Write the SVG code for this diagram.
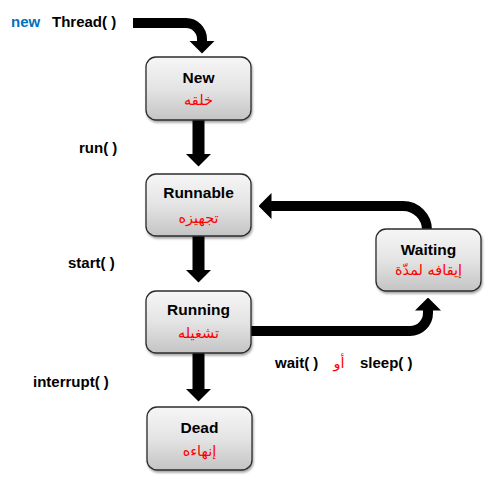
<svg xmlns="http://www.w3.org/2000/svg" width="491" height="484" viewBox="0 0 491 484">
<style>
.box{fill:url(#g);stroke:#2b2b2b;stroke-width:1.3;filter:url(#sh)}
.t{font-family:"Liberation Sans",Arial,sans-serif;font-weight:bold;font-size:15.5px;fill:#000;text-anchor:middle}
.ar{font-family:"DejaVu Sans","Noto Sans",sans-serif;font-size:14.5px;fill:#ff0000;text-anchor:middle}
.lb{font-family:"Liberation Sans",Arial,sans-serif;font-weight:bold;font-size:15px;fill:#000}
.c{fill:none;stroke:#000;stroke-width:12}
.c2{fill:none;stroke:#000;stroke-width:10}
</style>
<defs>
<linearGradient id="g" x1="0" y1="0" x2="0" y2="1">
<stop offset="0" stop-color="#f6f6f6"/>
<stop offset="0.5" stop-color="#e4e4e4"/>
<stop offset="1" stop-color="#c4c4c4"/>
</linearGradient>
<filter id="sh" x="-10%" y="-10%" width="125%" height="130%">
<feDropShadow dx="1" dy="2" stdDeviation="1.2" flood-color="#000" flood-opacity="0.35"/>
</filter>
<marker id="ah" viewBox="0 0 13 26" markerWidth="13" markerHeight="26" refX="0.5" refY="13" orient="auto" markerUnits="userSpaceOnUse">
<path d="M0,0 L13,13 L0,26 Z" fill="#000"/>
</marker>
</defs>
<g id="connectors">
<path class="c2" d="M133,23 H186 A16,16 0 0 1 202,39 V41" marker-end="url(#ah)"/>
<path class="c" d="M198.5,120 V154" marker-end="url(#ah)"/>
<path class="c" d="M198.5,236 V270" marker-end="url(#ah)"/>
<path class="c" d="M198.5,353 V389" marker-end="url(#ah)"/>
<path class="c2" d="M251,331 H410 A18,18 0 0 0 428,313 V310" marker-end="url(#ah)"/>
<path class="c2" d="M427,230 A24,24 0 0 0 403,206 H271" marker-end="url(#ah)"/>
</g>
<g id="labels">
<text class="lb" x="11" y="27"><tspan fill="#0070c0">new</tspan><tspan x="52">Thread( )</tspan></text>
<text class="lb" x="79" y="153">run( )</text>
<text class="lb" x="68" y="268">start( )</text>
<text class="lb" x="33" y="387">interrupt( )</text>
<text class="lb" x="275" y="368">wait( )</text>
<text class="ar" x="339" y="368">أو</text>
<text class="lb" x="360" y="368">sleep( )</text>
</g>
<g id="node-new">
<rect class="box" x="146" y="57" width="105" height="63" rx="10"/>
<text class="t" x="198.5" y="83">New</text>
<text class="ar" x="198.5" y="105">خلقه</text>
</g>
<g id="node-runnable">
<rect class="box" x="146" y="174" width="105" height="62" rx="10"/>
<text class="t" x="198.5" y="198">Runnable</text>
<text class="ar" x="198.5" y="223">تجهيزه</text>
</g>
<g id="node-running">
<rect class="box" x="146" y="291" width="105" height="62" rx="10"/>
<text class="t" x="198.5" y="315">Running</text>
<text class="ar" x="198.5" y="338">تشغيله</text>
</g>
<g id="node-dead">
<rect class="box" x="147" y="407" width="105" height="63" rx="10"/>
<text class="t" x="199.5" y="433">Dead</text>
<text class="ar" x="199.5" y="456">إنهاءه</text>
</g>
<g id="node-waiting">
<rect class="box" x="376" y="229" width="105" height="62" rx="10"/>
<text class="t" x="428.5" y="255">Waiting</text>
<text class="ar" x="428.5" y="275">إيقافه لمدّة</text>
</g>
</svg>
